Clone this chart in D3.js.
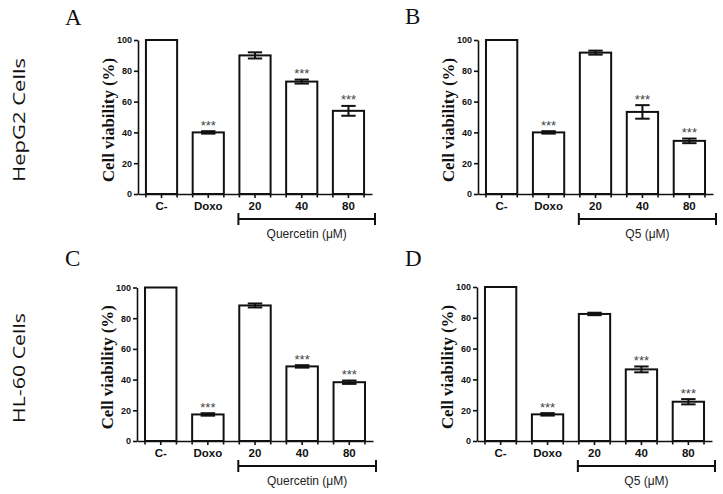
<!DOCTYPE html>
<html><head><meta charset="utf-8">
<script src="https://cdn.jsdelivr.net/npm/d3@7"></script>
<style>body{margin:0;background:#fff}svg{display:block}</style>
</head><body><svg id="c" width="723" height="494"></svg>
<script>
const categories = ["C-","Doxo","20","40","80"];
const yTicks = [0,20,40,60,80,100];
const hepg2Quercetin = [100,40,90,73,54];
const hepg2QuercetinErr = [0,0.8,2,1.3,3.2];
const hepg2Q5 = [100,40,91.8,53.3,34.5];
const hepg2Q5Err = [0,0.8,1.3,4.4,1.5];
const hl60Quercetin = [100,17.3,88.3,48.6,38.3];
const hl60QuercetinErr = [0,0.8,1.3,0.8,1.1];
const hl60Q5 = [100,17.3,82.5,46.5,25.5];
const hl60Q5Err = [0,0.8,0.8,1.9,1.7];
const significance = ["","***","","***","***"];
const panelLetters = ["A","B","C","D"];
const treatments = ["Quercetin (\u03bcM)","Q5 (\u03bcM)","Quercetin (\u03bcM)","Q5 (\u03bcM)"];
const rowLabels = ["HepG2 Cells","HL-60 Cells"];
const yTitle = "Cell viability (%)";

const panels = [
  {vals:hepg2Quercetin, err:hepg2QuercetinErr, x0:138, x1:372, y0:194, y1:40, lx:65, ly:25},
  {vals:hepg2Q5, err:hepg2Q5Err, x0:478, x1:713, y0:194, y1:40, lx:405, ly:24},
  {vals:hl60Quercetin, err:hl60QuercetinErr, x0:137, x1:373, y0:441, y1:287.5, lx:65, ly:266},
  {vals:hl60Q5, err:hl60Q5Err, x0:477, x1:712, y0:441, y1:287, lx:405, ly:266}
];

const svg = d3.select("#c");
const sans = "'Liberation Sans', Arial, sans-serif";
const serif = "'Liberation Serif', 'Times New Roman', serif";

panels.forEach((p, i) => {
  const g = svg.append("g");
  const x = d3.scaleBand().domain(categories).range([p.x0, p.x1]).paddingInner(0.333).paddingOuter(0.17);
  const y = d3.scaleLinear().domain([0,100]).range([p.y0, p.y1]);

  g.append("text").attr("x", p.lx).attr("y", p.ly).attr("font-family", serif)
    .attr("font-size", 23).attr("fill", "#111").text(panelLetters[i]);

  const ym = (p.y0 + p.y1) / 2 + 3;
  g.append("text").attr("transform", `translate(${p.x0 - 24},${ym}) rotate(-90)`)
    .attr("text-anchor", "middle").attr("font-family", serif).attr("font-weight", "bold")
    .attr("font-size", 17).attr("textLength", 124).attr("lengthAdjust", "spacingAndGlyphs")
    .attr("fill", "#111").text(yTitle);

  g.selectAll("rect.bar").data(categories).enter().append("rect")
    .attr("x", d => x(d)).attr("width", x.bandwidth())
    .attr("y", (d, j) => y(p.vals[j])).attr("height", (d, j) => y(0) - y(p.vals[j]))
    .attr("fill", "#fff").attr("stroke", "#111").attr("stroke-width", 2);

  const capW = x.bandwidth() * 0.46;
  categories.forEach((c, j) => {
    if (!p.err[j]) return;
    const cx = x(c) + x.bandwidth() / 2;
    const hi = y(p.vals[j] + p.err[j]), lo = y(p.vals[j] - p.err[j]);
    g.append("line").attr("x1", cx).attr("x2", cx).attr("y1", hi).attr("y2", lo).attr("stroke", "#111").attr("stroke-width", 2);
    g.append("line").attr("x1", cx - capW/2).attr("x2", cx + capW/2).attr("y1", hi).attr("y2", hi).attr("stroke", "#111").attr("stroke-width", 2);
    g.append("line").attr("x1", cx - capW/2).attr("x2", cx + capW/2).attr("y1", lo).attr("y2", lo).attr("stroke", "#111").attr("stroke-width", 2);
  });

  categories.forEach((c, j) => {
    if (!significance[j]) return;
    const cx = x(c) + x.bandwidth() / 2;
    g.append("text").attr("x", cx).attr("y", y(p.vals[j] + p.err[j]) - 1.5)
      .attr("text-anchor", "middle").attr("font-family", sans).attr("font-size", 13)
      .attr("fill", "#444").text(significance[j]);
  });

  const ya = g.append("g").attr("transform", `translate(${p.x0},0)`)
    .call(d3.axisLeft(y).tickValues(yTicks).tickSize(4).tickSizeOuter(0).tickPadding(2));
  ya.selectAll("path,line").attr("stroke", "#111").attr("stroke-width", 1.6);
  ya.selectAll("text").attr("font-family", sans).attr("font-weight", "bold").attr("font-size", 9).attr("fill", "#111");

  const xa = g.append("g").attr("transform", `translate(0,${p.y0})`)
    .call(d3.axisBottom(x).tickSize(4).tickSizeOuter(0).tickPadding(4));
  xa.selectAll("path,line").attr("stroke", "#111").attr("stroke-width", 1.6);
  xa.selectAll("text").attr("font-family", sans).attr("font-weight", "bold").attr("font-size", 11.5).attr("fill", "#111");
  categories.forEach(c => {
    [x(c), x(c) + x.bandwidth()].forEach(ex => {
      g.append("line").attr("x1", ex).attr("x2", ex).attr("y1", p.y0).attr("y2", p.y0 + 3.5)
        .attr("stroke", "#111").attr("stroke-width", 1.6);
    });
  });

  const bx1 = x(categories[2]) - 1, bx2 = p.x1 + 3, by = p.y0 + 25;
  g.append("line").attr("x1", bx1).attr("x2", bx2).attr("y1", by).attr("y2", by).attr("stroke", "#111").attr("stroke-width", 2);
  [bx1, bx2].forEach(bx => g.append("line").attr("x1", bx).attr("x2", bx).attr("y1", by - 6).attr("y2", by + 6).attr("stroke", "#111").attr("stroke-width", 2));
  g.append("text").attr("x", (bx1 + bx2) / 2).attr("y", p.y0 + 43.5).attr("text-anchor", "middle")
    .attr("font-family", sans).attr("font-size", 12).attr("fill", "#222").text(treatments[i]);
});

[[120, 124], [368, 110]].forEach(([cy, len], i) => {
  svg.append("text").attr("transform", `translate(25,${cy}) rotate(-90)`)
    .attr("text-anchor", "middle").attr("font-family", "'Open Sans', sans-serif").attr("font-size", 16.5)
    .attr("textLength", len).attr("lengthAdjust", "spacingAndGlyphs").attr("fill", "#111").text(rowLabels[i]);
});
</script></body></html>
